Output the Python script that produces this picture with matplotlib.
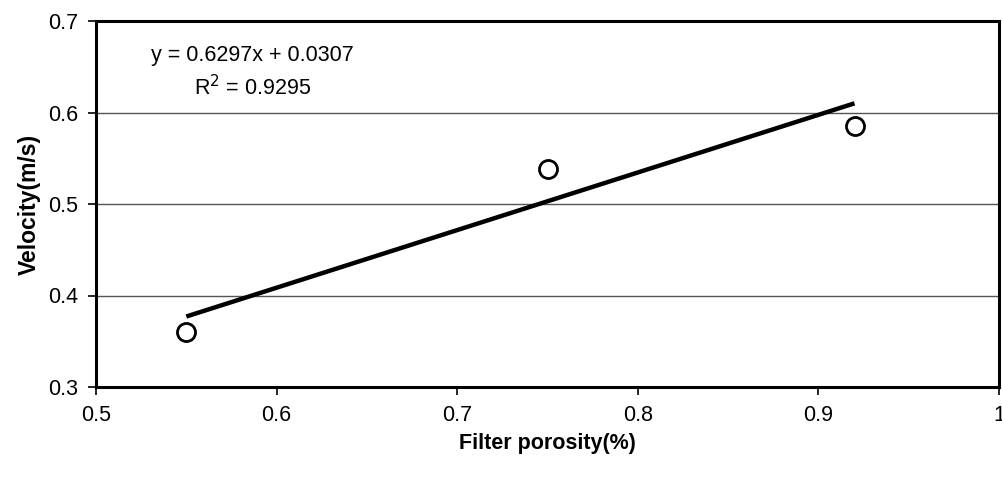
import matplotlib
matplotlib.use("Agg")
import matplotlib.pyplot as plt
import numpy as np

porosity = [0.55, 0.75, 0.92]
velocity = [0.36, 0.538, 0.585]
slope = 0.6297
intercept = 0.0307
r2 = 0.9295
xticks = [0.5, 0.6, 0.7, 0.8, 0.9, 1]
yticks = [0.3, 0.4, 0.5, 0.6, 0.7]

plt.rcParams['font.family'] = ['Liberation Sans', 'DejaVu Sans']

fig = plt.figure(figsize=(10.02, 4.8), dpi=100)
ax = fig.add_axes([96/1002, 1-387/480, (999-96)/1002, (387-21)/480])

ax.set_xlim(0.5, 1.0)
ax.set_ylim(0.3, 0.7)
ax.set_xticks(xticks)
ax.set_xticklabels(['0.5', '0.6', '0.7', '0.8', '0.9', '1'])
ax.set_yticks(yticks)
ax.set_yticklabels(['0.3', '0.4', '0.5', '0.6', '0.7'])
ax.tick_params(direction='out', length=6, width=1.2, labelsize=15.5, colors='black', pad=7)
ax.yaxis.grid(True, color='#555555', linewidth=1.0)
ax.set_axisbelow(True)
for s in ax.spines.values():
    s.set_linewidth(2.2)
    s.set_color('black')

xl = np.array([min(porosity), max(porosity)])
ax.plot(xl, slope*xl + intercept, color='black', linewidth=3.2, solid_capstyle='butt', zorder=3)
ax.plot(porosity, velocity, linestyle='none', marker='o', markersize=13,
        markerfacecolor='white', markeredgecolor='black', markeredgewidth=2.0, zorder=4)

fig.text(252/1002, 1-55/480, f'y = {slope}x + {intercept}', ha='center', va='center', fontsize=15.5)
fig.text(253/1002, 1-88/480, f'R$^2$ = {r2}', ha='center', va='center', fontsize=15.5)

ax.set_xlabel('Filter porosity(%)', fontsize=15.5, fontweight='bold', labelpad=5)
ax.set_ylabel('Velocity(m/s)', fontsize=16.5, fontweight='bold', labelpad=5)

fig.savefig('out.png', dpi=100)
